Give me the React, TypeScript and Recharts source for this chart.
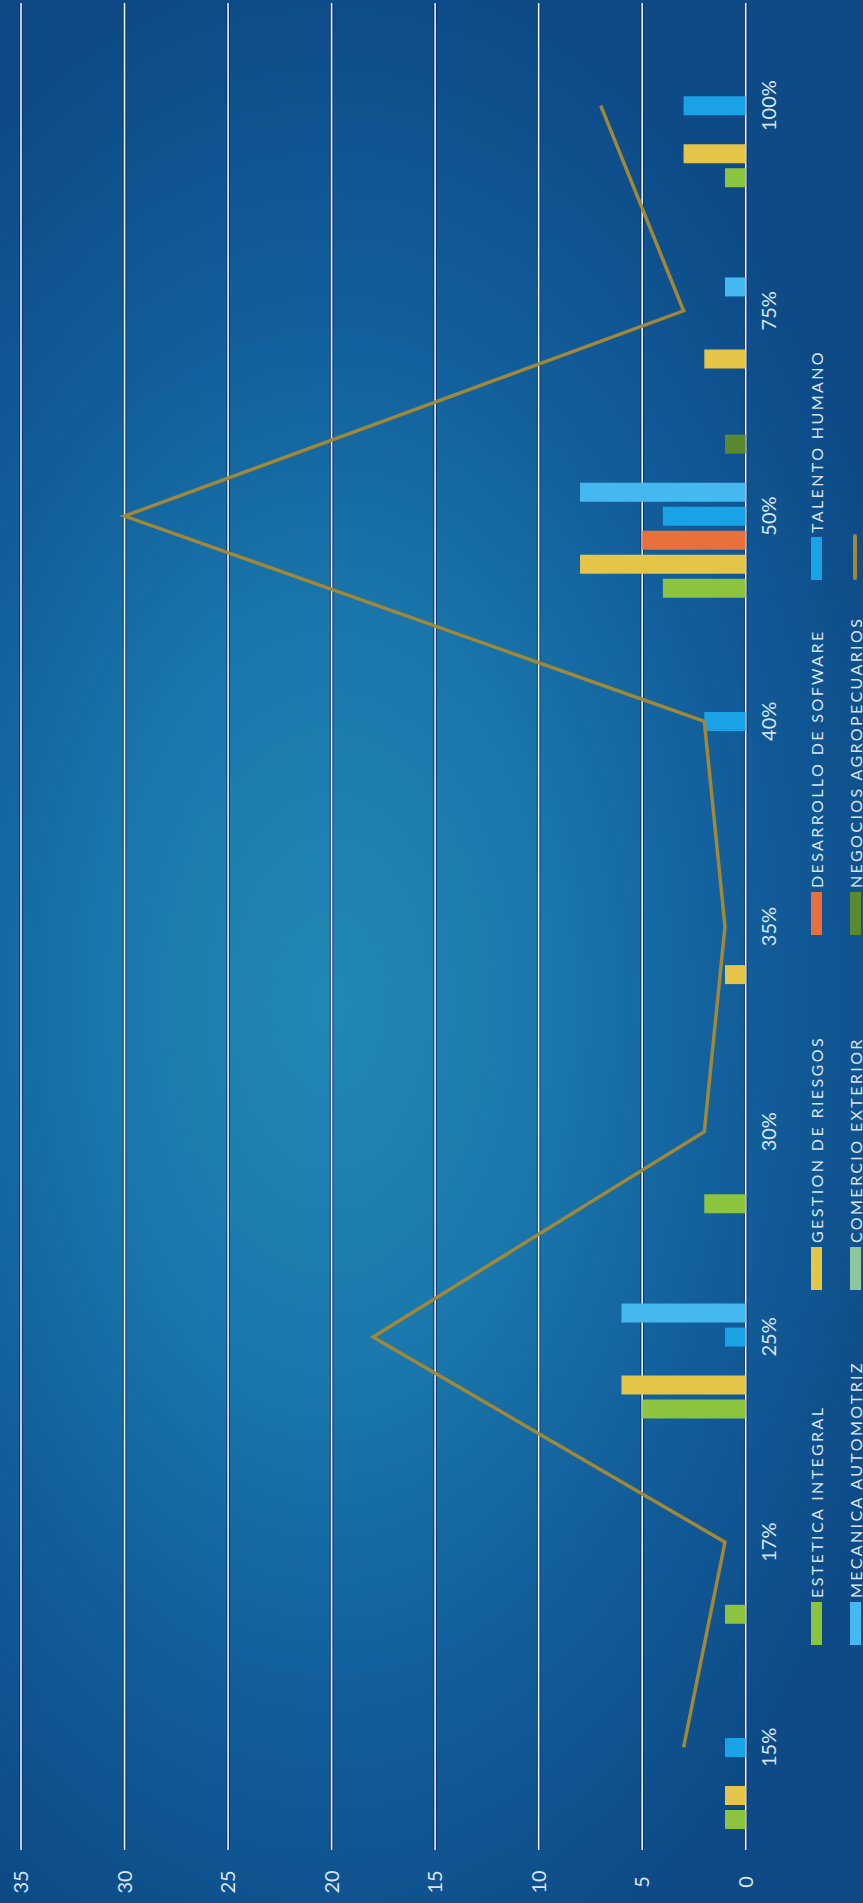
import React from 'react';
import { ComposedChart, Bar, Line, XAxis, YAxis, CartesianGrid } from 'recharts';

// chart is drawn in its natural orientation, then the whole sheet is turned 90deg like the photo
const categories = ['15%', '17%', '25%', '30%', '35%', '40%', '50%', '75%', '100%'];
const esteticaIntegral = [1, 1, 5, 2, 0, 0, 4, 0, 1];
const gestionDeRiesgos = [1, 0, 6, 0, 1, 0, 8, 2, 3];
const desarrolloDeSofware = [0, 0, 0, 0, 0, 0, 5, 0, 0];
const talentoHumano = [1, 0, 1, 0, 0, 2, 4, 0, 3];
const mecanicaAutomotriz = [0, 0, 6, 0, 0, 0, 8, 1, 0];
const comercioExterior = [0, 0, 0, 0, 0, 0, 0, 0, 0];
const negociosAgropecuarios = [0, 0, 0, 0, 0, 0, 1, 0, 0];
const totals = [3, 1, 18, 2, 1, 2, 30, 3, 7];
const valueTicks = [0, 5, 10, 15, 20, 25, 30, 35];

const series = [
  { key: 'estetica', name: 'ESTETICA INTEGRAL', color: '#8dc43f', values: esteticaIntegral },
  { key: 'gestion', name: 'GESTION DE RIESGOS', color: '#e4c548', values: gestionDeRiesgos },
  { key: 'desarrollo', name: 'DESARROLLO DE SOFWARE', color: '#e8703a', values: desarrolloDeSofware },
  { key: 'talento', name: 'TALENTO HUMANO', color: '#1aa2e6', values: talentoHumano },
  { key: 'mecanica', name: 'MECANICA AUTOMOTRIZ', color: '#45b9ef', values: mecanicaAutomotriz },
  { key: 'comercio', name: 'COMERCIO EXTERIOR', color: '#8fc59c', values: comercioExterior },
  { key: 'negocios', name: 'NEGOCIOS AGROPECUARIOS', color: '#5b8a2e', values: negociosAgropecuarios },
];

// legend reads row by row, 4 columns
const legendOrder = ['estetica', 'gestion', 'desarrollo', 'talento', 'mecanica', 'comercio', 'negocios', 'total'];

const data = categories.map((cat, i) => {
  const row: any = { cat, total: totals[i] };
  series.forEach(s => { row[s.key] = s.values[i]; });
  return row;
});

const W = 1903;
const H = 863;
const LINE_COLOR = '#a08838';
const TEXT = '#d9e5f1';
const FONT = 'Lato, "Open Sans", sans-serif';

const ValueTick = ({ y, payload }: any) => (
  <text x={21} y={y} dy="0.36em" textAnchor="middle" fill={TEXT} fontSize={20} fontFamily={FONT}>
    {payload.value}
  </text>
);

const LegendBlock = () => (
  <div style={{ position: 'absolute', left: 0, top: 0, width: W, height: H, pointerEvents: 'none' }}>
    {legendOrder.map((key, i) => {
      const s = series.find(x => x.key === key);
      const col = i % 4;
      const row = Math.floor(i / 4);
      const left = 258 + col * 355;
      const cy = 816 + row * 39;
      return (
        <div key={key} style={{ position: 'absolute', left, top: cy - 12, height: 24, display: 'flex', alignItems: 'center', whiteSpace: 'nowrap' }}>
          {s ? (
            <div style={{ width: 43, height: 11, background: s.color }} />
          ) : (
            <div style={{ width: 46, height: 4, background: LINE_COLOR, borderRadius: 2 }} />
          )}
          <span style={{ marginLeft: 4, color: TEXT, fontFamily: FONT, fontSize: 16, letterSpacing: 2.4 }}>
            {s ? s.name : ''}
          </span>
        </div>
      );
    })}
  </div>
);

export default function App() {
  return (
    <div style={{ position: 'absolute', left: 0, top: 0, width: H, height: W, overflow: 'hidden', background: '#0d4a86' }}>
      <div
        style={{
          position: 'absolute',
          left: 0,
          top: 0,
          width: W,
          height: H,
          transformOrigin: '0 0',
          transform: `translateY(${W}px) rotate(-90deg)`,
          background:
            'radial-gradient(ellipse 1050px 620px at 900px 330px, #2189b6 0%, #1a78ac 35%, #125f9c 65%, #0d4a86 100%)',
        }}
      >
        <ComposedChart
          width={W}
          height={H}
          data={data}
          margin={{ top: 21, right: 3, bottom: 0, left: 0 }}
          barGap={5}
        >
          <CartesianGrid vertical={false} stroke="#0a2f6b" strokeWidth={3.5} />
          <CartesianGrid vertical={false} stroke="#eef5ff" strokeWidth={1.6} />
          <XAxis
            dataKey="cat"
            height={117.3}
            axisLine={false}
            tickLine={false}
            tickMargin={10}
            tick={{ fill: TEXT, fontSize: 20, fontFamily: FONT }}
          />
          <YAxis
            width={53}
            domain={[0, 35]}
            ticks={valueTicks}
            axisLine={false}
            tickLine={false}
            tick={<ValueTick />}
          />
          {series.map(s => (
            <Bar key={s.key} dataKey={s.key} name={s.name} fill={s.color} barSize={19} isAnimationActive={false} />
          ))}
          <Line
            type="linear"
            dataKey="total"
            name=""
            stroke={LINE_COLOR}
            strokeWidth={3.5}
            dot={false}
            activeDot={false}
            isAnimationActive={false}
          />
        </ComposedChart>
        <LegendBlock />
      </div>
    </div>
  );
}
